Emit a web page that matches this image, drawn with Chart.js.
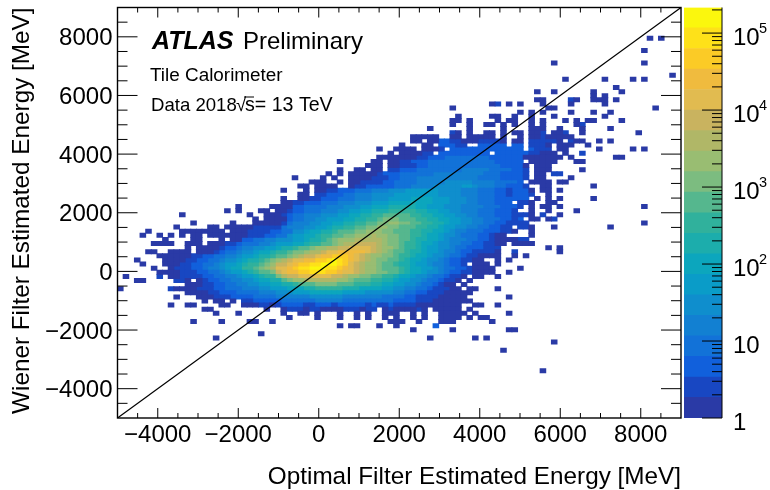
<!DOCTYPE html>
<html>
<head>
<meta charset="utf-8">
<style>
  html, body { margin: 0; padding: 0; background: #fff; overflow: hidden; }
  canvas { position: absolute; top: 0; }
  #heat { left: 0; }
  #bar { left: 682px; }
</style>
<script src="https://cdn.jsdelivr.net/npm/chart.js@4"></script>
</head>
<body>
<canvas id="heat" width="690" height="490"></canvas>
<canvas id="bar" width="88" height="490"></canvas>
<script>
const FONT = "'Liberation Sans', Arial, sans-serif";

// 100 x 100 bins, 140 MeV wide. Each row string is "startColumn:levels ..." and a
// level char is the colour band of that cell (0-9 then a-j).
// A part with no colon carries on from the previous column.
const BIN = 140;
const X_MIN = -5000;
const Y_MAX = 9000;
const FIRST_ROW = 7;
const heatRows = [
  "94:0 96:0", // 7
  "",
  "",
  "93:0", // 10
  "",
  "",
  "77:0 93:0", // 13
  "",
  "",
  "98:0", // 16
  "79:0 86:0 91:0 93:0",
  "",
  "88:0", // 19
  "74:0 77:0 84:0 89:0",
  "84:0 86:0",
  "74:00 80:10 84:000 88:0",
  "66:01 69:0 71:0 75:0 80:0 86:0",
  "59:0 76:00 95:0", // 24
  "71:0 73:0 75:0 80:0 84:0 87:0",
  "60:0 66:00 70:0 73:0 77:0 86:0",
  "59:00 62:0 67:0 69:00 73:0 75:0 79:0 81:0 83:00 89:0",
  "59:0 62:0 65:00 68:0 70:0 73:0 75:0 81:01",
  "55:0 62:0 68:0 73:000 78:0 82:0 87:0", // 29
  "59:10 62:0 65:00 68:0 70:00 73:001 77:001 82:0 92:0",
  "52:00 54:00 56:0 59:00 62:000 65:00 68:0 71:0 73:00100000",
  "52:00 55:00 57:2211 61:000 64:11110 70:00 73:11111 78:0 80:100 85:0 87:0",
  "50:0 54:00 57:22211 64:22222 70:22 73:1110 78:00 80:0 83:0",
  "46:0 49:0000 54:000 57:1 59:222222222222 71:2 73:2 74:111 78:00 85:0 91:0 93:0", // 34
  "48:0 50:00 52:0011 57:222222222 67:222222 73:110 76:00 79:0 82:1",
  "46:000 49:00 51:00112 56:2233333333222222 72:0000000 80:0 88:00",
  "39:0 45:00 48:00112 53:2233333333333322222 73:00000 81:00",
  "44:000 48:0 49:0111 53:2233333333333332222 72:0 74:000",
  "39:0 42:00 45:00 48:1 49:1222 53:3333333344444333322 72:1 74:00 76:0 82:0", // 39
  "37:0 39:0 41:00000 46:12223 51:3333344444444433322 70:2 71:21 74:00 77:11",
  "31:0 36:0 38:0 41:0000 45:11 47:12 49:2333444444444443333 68:2222 72:1 74:00 80:0",
  "34:000 39:0 41:00111 46:1223 50:3334444455555444433332 73:0000 78:00",
  "32:00 35:0000 41:0112 45:2222 49:3334444555556654443322 71:21 75:00 84:0",
  "29:0 33:0 35:00112223334445556666665555444333 221222 73:0 75:00 78:0", // 44
  "32:00 35:1122233444555566666666 5555 444 333 2212 221 76:0",
  "29:0 32:0 33:0 34:11222333444555666677776665554433 3222222 74:0 76:0 78:0 84:0",
  "29:00 31:11222333444555666777787776665554433322 2 71:110 76:00",
  "21:0 27:0 28:000 31:22333344455566777 88888 77666555444433322 21 73:0 75:00 78:0 93:0",
  "19:0 21:0 25:00 28:00 30:1 22333444556677 88899999887766 5544433322 21 73:0 76:0 81:0", // 49
  "11:0 23:0 26:000 29:1 30:23344455566778899aaaaa998877665544333222111 73:0 75:1 78:0",
  "24:0 26:0000 30:2 3344556667788 99abbbaaa99887766554433322 1 71:2 73:00 76:0 77:1",
  "13:0 20:0 24:00 26:000 29:1 30:3 444556677889 9aabbccbbaa998876655443322 1111 93:0",
  "10:0 16:00 19:00000 24:1111 28:1 29:34445566788 99aabbccbbaaa998876655443322 11 71:11 73:0 77:0 87:0",
  "5:0 11:0000 15:0000 20:000 23:1 24:1112 28:2 29:33 55677 889aaabbcccbbaaa9988776 54433 32221 1 0 73:0", // 54
  "4:0 7:0 9:0 11:0 13:00 16:000 19:0000 23:1112 27:2 28:3356677 899aabbcccdccbbaa9987 7655 4333 2210 0 73:0",
  "8:0 13:00 18:0 20:00 22:2233445556 6788 9abcccdddddcbbaa98877 65 444 33 22 1 0000 11",
  "6:0000 12:000 16:000 19:11 21:2333445 66677 89 9aabcddeeeedcbba99877 65544332211 0 68:0 70:00 72:00",
  "12:0 14:00 16:00 18:1 19:2234455667889aabccddeeffffedccba99876655433222111 76:0 78:0",
  "5:00 9:0000 14:0 15:00 17:1 18:233455677899abbcddeffgggggfedcbaa98876654432211110 70:1 78:0", // 59
  "7:000000 13:112233445667889aabcdeefgghhhgfedccbba9987765543321 10000 70:0 72:0",
  "3:0 8:000011223345567889abcdeffgghhijihgfedcbbaa98776554322 1100 67:0 69:0",
  "4:0 8:00011223345667899abceefghhiijjjihfedccbaa98876654 43221 63:000 67:0",
  "6:0 9:0 10:111223 4456779 9abcdffghiijjjiihgfedccbaaa987766 5433 221000 66:0 71:0",
  "7:000 10:01112233 4566789aabefgghhiiihhgffedccbbaa98776554 3 2211 00 65:00 69:0", // 64
  "1:0 7:1 9:00 11:1111223344566 7899bdeeffffffeedccbbaa99877655 433211 0 63:00 67:0",
  "3:00 10:11 12:0 14:0 15:1223344556 7788abccddddddccbaaa99887665 54 33211 0 62:0",
  "12:000 15:1122334455667788 9aaabbbbaaa99988776655 43321 00 61:0",
  "0:0 9:1 10:00 12:00 14:11122333444556667778899999888777766554433 2111 00 62:00 67:0",
  "12:0000 16:112223333444555666777777666655555443322 11100000", // 69
  "10:0 14:000 17:111222233334444445555554444444333322 111100000 69:0",
  "15:0 17:00 20:0 22:112222233333344444333333333222211100 00000",
  "9:0 12:00 18:00 22:00011012222112221222221211 21111 00000000 63:00 67:0",
  "15:00 26:0 29:0 30:11101100001110 11 47:0100001 54:0 56:00000 62:0",
  "17:0 21:0 29:0 32:00 35:0 39:0 42:0 44:0 47:000 52:0 54:0 57:0000 61:0 63:0 69:0", // 74
  "30:0 35:0 39:0 42:0 44:0 47:0 49:0 52:0 54:0 57:0000 62:0 64:00",
  "13:0 18:0 23:00 27:0 48:000 53:0 57:000 66:0",
  "39:0 41:00 46:0 49:0 56:2",
  "52:0 59:0 69:00",
  "25:0", // 79
  "17:0 55:0 63:0 65:0",
  "77:0",
  "",
  "68:0",
  "",
  "",
  "",
  "",
  "75:0" // 88
];

const levelColors = [
  "#2a3aa6", "#1847c2", "#1160dc", "#1272d8", "#1280d2",
  "#0f8ecd", "#0a9cc8", "#0ca6bd", "#1cadac", "#30b19c",
  "#55b78e", "#7cbc80", "#99bd72", "#b0b767", "#c9b35f",
  "#e1bb50", "#f0bb3e", "#fbcb26", "#fee119", "#fbf70d"
];
// colour band edges on the z axis
const bandEdges = [
  1, 1.85, 3.41, 6.31, 11.7, 21.5, 39.8, 73.6, 136, 251, 464,
  858, 1585, 2930, 5410, 10000, 18500, 34100, 63100, 117000, 215000
];

const xTickValues = [-4000, -2000, 0, 2000, 4000, 6000, 8000];
const yTickValues = [-4000, -2000, 0, 2000, 4000, 6000, 8000];
const minorStep = 500;
const diagonalX = [-5000, 9000];
const diagonalY = [-5000, 9000];
const zDecades = [0, 1, 2, 3, 4, 5];
const zDecadeLabels = ["1", "10", "10", "10", "10", "10"];
const zDecadeExponents = ["", "", "2", "3", "4", "5"];

Chart.defaults.animation = false;

// split the row strings into one list of cells per colour band
const LEVEL_CHARS = "0123456789abcdefghij";
const cellsByLevel = levelColors.map(() => []);
heatRows.forEach((row, i) => {
  const top = Y_MAX - BIN * (FIRST_ROW + i);
  let col = 0;
  row.split(" ").filter(Boolean).forEach((part) => {
    let cells = part;
    if (part.includes(":")) {
      const bits = part.split(":");
      col = +bits[0];
      cells = bits[1];
    }
    for (const ch of cells) {
      // a little overlap so neighbouring bars leave no white seam
      cellsByLevel[LEVEL_CHARS.indexOf(ch)].push({
        x: X_MIN + BIN * col + BIN / 2,
        y: [top - BIN - 4, top + 4],
      });
      col++;
    }
  });
});

const minus = (v) => String(v).replace("-", "\u2212");

function setTicks(values) {
  return (scale) => {
    scale.ticks = values.map((v) => ({ value: v }));
  };
}

// ROOT style frame, with ticks pointing into the plot on all four sides
const frameTicks = {
  id: "frameTicks",
  afterDatasetsDraw(chart) {
    const { ctx, chartArea: a, scales } = chart;
    ctx.save();
    ctx.strokeStyle = "#000";
    ctx.lineWidth = 1;
    ctx.beginPath();
    for (let v = -4500; v <= 8500; v += minorStep) {
      const major = v % 2000 === 0;
      const px = scales.x.getPixelForValue(v);
      const py = scales.y.getPixelForValue(v);
      const xLen = major ? 10 : 5;
      const yLen = major ? 20 : 10;
      ctx.moveTo(px, a.bottom);
      ctx.lineTo(px, a.bottom - xLen);
      ctx.moveTo(px, a.top);
      ctx.lineTo(px, a.top + xLen);
      ctx.moveTo(a.left, py);
      ctx.lineTo(a.left + yLen, py);
      ctx.moveTo(a.right, py);
      ctx.lineTo(a.right - yLen, py);
    }
    ctx.stroke();
    ctx.lineWidth = 1.4;
    ctx.strokeRect(a.left, a.top, a.right - a.left, a.bottom - a.top);
    ctx.restore();
  },
};

const atlasLabel = {
  id: "atlasLabel",
  afterDraw(chart) {
    const { ctx } = chart;
    ctx.save();
    ctx.fillStyle = "#000";
    ctx.textBaseline = "alphabetic";
    ctx.font = "italic bold 25px " + FONT;
    ctx.fillText("ATLAS", 152, 49);
    ctx.font = "24px " + FONT;
    ctx.fillText("Preliminary", 243, 49);
    ctx.font = "18.9px " + FONT;
    ctx.fillText("Tile Calorimeter", 150, 81);
    ctx.font = "18.6px " + FONT;
    ctx.fillText("Data 2018", 151, 111);
    ctx.fillText("\u221A", 236, 111);
    ctx.font = "19.6px " + FONT;
    ctx.fillText("s= 13 TeV", 245, 111);
    ctx.lineWidth = 1;
    ctx.beginPath();
    ctx.moveTo(244, 97);
    ctx.lineTo(254, 97);
    ctx.stroke();
    ctx.restore();
  },
};

new Chart(document.getElementById("heat"), {
  type: "bar",
  data: {
    datasets: [
      {
        type: "line",
        order: -1,
        data: diagonalX.map((x, i) => ({ x, y: diagonalY[i] })),
        borderColor: "#000",
        borderWidth: 1.2,
        pointRadius: 0,
      },
    ].concat(
      cellsByLevel.map((cells, i) => ({
        data: cells,
        order: i,
        backgroundColor: levelColors[i],
        grouped: false,
        barThickness: 5.9,
      }))
    ),
  },
  plugins: [frameTicks, atlasLabel],
  options: {
    responsive: false,
    layout: { padding: { left: 0, right: 9, top: 7.5, bottom: 0 } },
    plugins: { legend: { display: false }, tooltip: { enabled: false } },
    scales: {
      x: {
        type: "linear",
        offset: false,
        min: -5000,
        max: 9000,
        grid: { display: false, drawTicks: false },
        border: { display: false },
        afterBuildTicks: setTicks(xTickValues),
        afterFit: (s) => { s.height = 72; s.paddingLeft = 0; s.paddingRight = 0; },
        ticks: {
          color: "#000",
          font: { family: FONT, size: 24 },
          padding: 3,
          maxRotation: 0,
          autoSkip: false,
          callback: minus,
        },
        title: {
          display: true,
          text: "Optimal Filter Estimated Energy [MeV]",
          align: "end",
          color: "#000",
          font: { family: FONT, size: 24.3 },
          padding: { top: 12, bottom: -2 },
        },
      },
      y: {
        type: "linear",
        min: -5000,
        max: 9000,
        grid: { display: false, drawTicks: false },
        border: { display: false },
        afterBuildTicks: setTicks(yTickValues),
        afterFit: (s) => { s.width = 117.5; s.paddingTop = 0; s.paddingBottom = 0; },
        ticks: {
          color: "#000",
          font: { family: FONT, size: 24 },
          padding: 5,
          labelOffset: 2,
          autoSkip: false,
          callback: minus,
        },
        title: {
          display: true,
          text: "Wiener Filter Estimated Energy [MeV]",
          align: "end",
          color: "#000",
          font: { family: FONT, size: 24.3 },
          padding: { top: 8, bottom: 0 },
        },
      },
    },
  },
});

// ticks and decade labels for the log colour scale
const zAxisMarks = {
  id: "zAxisMarks",
  afterDatasetsDraw(chart) {
    const { ctx, chartArea: a, scales } = chart;
    const z = scales.y;
    ctx.save();
    ctx.strokeStyle = "#000";
    ctx.lineWidth = 1;
    ctx.beginPath();
    ctx.moveTo(a.right, a.top);
    ctx.lineTo(a.right, a.bottom);
    zDecades.forEach((d) => {
      const py = z.getPixelForValue(Math.pow(10, d));
      ctx.moveTo(a.right - 20, py);
      ctx.lineTo(a.right, py);
      for (let m = 2; m < 10; m++) {
        const v = m * Math.pow(10, d);
        if (v > bandEdges[bandEdges.length - 1]) break;
        const my = z.getPixelForValue(v);
        ctx.moveTo(a.right - 10, my);
        ctx.lineTo(a.right, my);
      }
    });
    ctx.stroke();
    ctx.fillStyle = "#000";
    ctx.textBaseline = "alphabetic";
    zDecades.forEach((d, i) => {
      const py = z.getPixelForValue(Math.pow(10, d));
      ctx.font = "24px " + FONT;
      ctx.fillText(zDecadeLabels[i], a.right + 11, py + 12);
      if (zDecadeExponents[i]) {
        ctx.font = "14.5px " + FONT;
        ctx.fillText(zDecadeExponents[i], a.right + 37, py + 0);
      }
    });
    ctx.restore();
  },
};

new Chart(document.getElementById("bar"), {
  type: "bar",
  data: {
    labels: ["z"],
    datasets: levelColors.map((color, i) => ({
      data: [[bandEdges[i], bandEdges[i + 1]]],
      backgroundColor: color,
      grouped: false,
      barPercentage: 1,
      categoryPercentage: 1,
    })),
  },
  plugins: [zAxisMarks],
  options: {
    responsive: false,
    layout: { padding: { left: 2, right: 48, top: 7.5, bottom: 72 } },
    plugins: { legend: { display: false }, tooltip: { enabled: false } },
    scales: {
      x: { display: false },
      y: { type: "logarithmic", display: false, min: 1, max: 215000 },
    },
  },
});
</script>
</body>
</html>
